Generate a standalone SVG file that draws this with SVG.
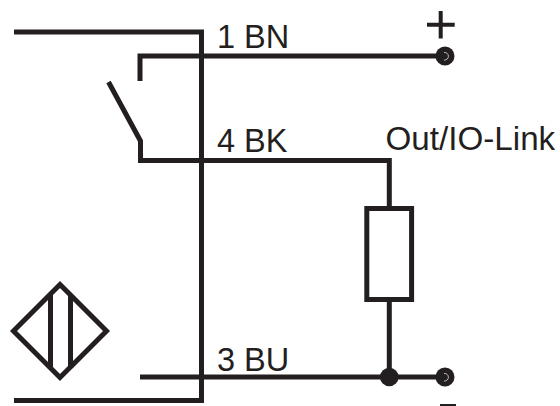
<svg xmlns="http://www.w3.org/2000/svg" width="560" height="406" viewBox="0 0 560 406">
<style>
.w{fill:none;stroke:#231f20;stroke-width:5;stroke-linejoin:miter}
.d{fill:#231f20}
.h{fill:none;stroke:#ddd;stroke-width:0.8}
text{font-family:"Liberation Sans",Arial,sans-serif;font-size:32.500px;fill:#231f20}
</style>
<rect width="560" height="406" fill="#fff"/>
<g id="connectors">
<path class="w" d="M14 32H201.500V400.500H14"/>
<path class="w" d="M140 81V56H445"/>
<path class="w" d="M108.500 82L140.500 141V160.500H389.300V377"/>
<path class="w" d="M140 377H445"/>
</g>
<g id="sensor">
<path class="w" d="M60 284.500L106.500 331L60 377.500L13.500 331Z"/>
<path class="w" d="M50.500 295V367M70.500 295V367"/>
</g>
<g id="resistor">
<rect x="366.800" y="208.500" width="44.800" height="91" fill="#fff" stroke="#231f20" stroke-width="5"/>
</g>
<g id="terminal-plus">
<circle class="d" cx="445" cy="56" r="9.500"/>
<path class="h" d="M444 52.500A3.800 3.800 0 1 1 444 60"/>
<path d="M427 24.700H454.700M440.700 11V38.500" fill="none" stroke="#231f20" stroke-width="4"/>
</g>
<g id="terminal-minus">
<circle class="d" cx="445" cy="377" r="9.500"/>
<path class="h" d="M444 373.500A3.800 3.800 0 1 1 444 381"/>
<rect class="d" x="440" y="404" width="16" height="2"/>
</g>
<g id="junction">
<circle class="d" cx="389.300" cy="377" r="9.300"/>
</g>
<g id="labels">
<text x="217" y="47.500">1 BN</text>
<text x="217" y="152">4 BK</text>
<text x="217" y="370.500">3 BU</text>
<text x="385.500" y="150" style="font-size:33.200px">Out/IO-Link</text>
</g>
</svg>
